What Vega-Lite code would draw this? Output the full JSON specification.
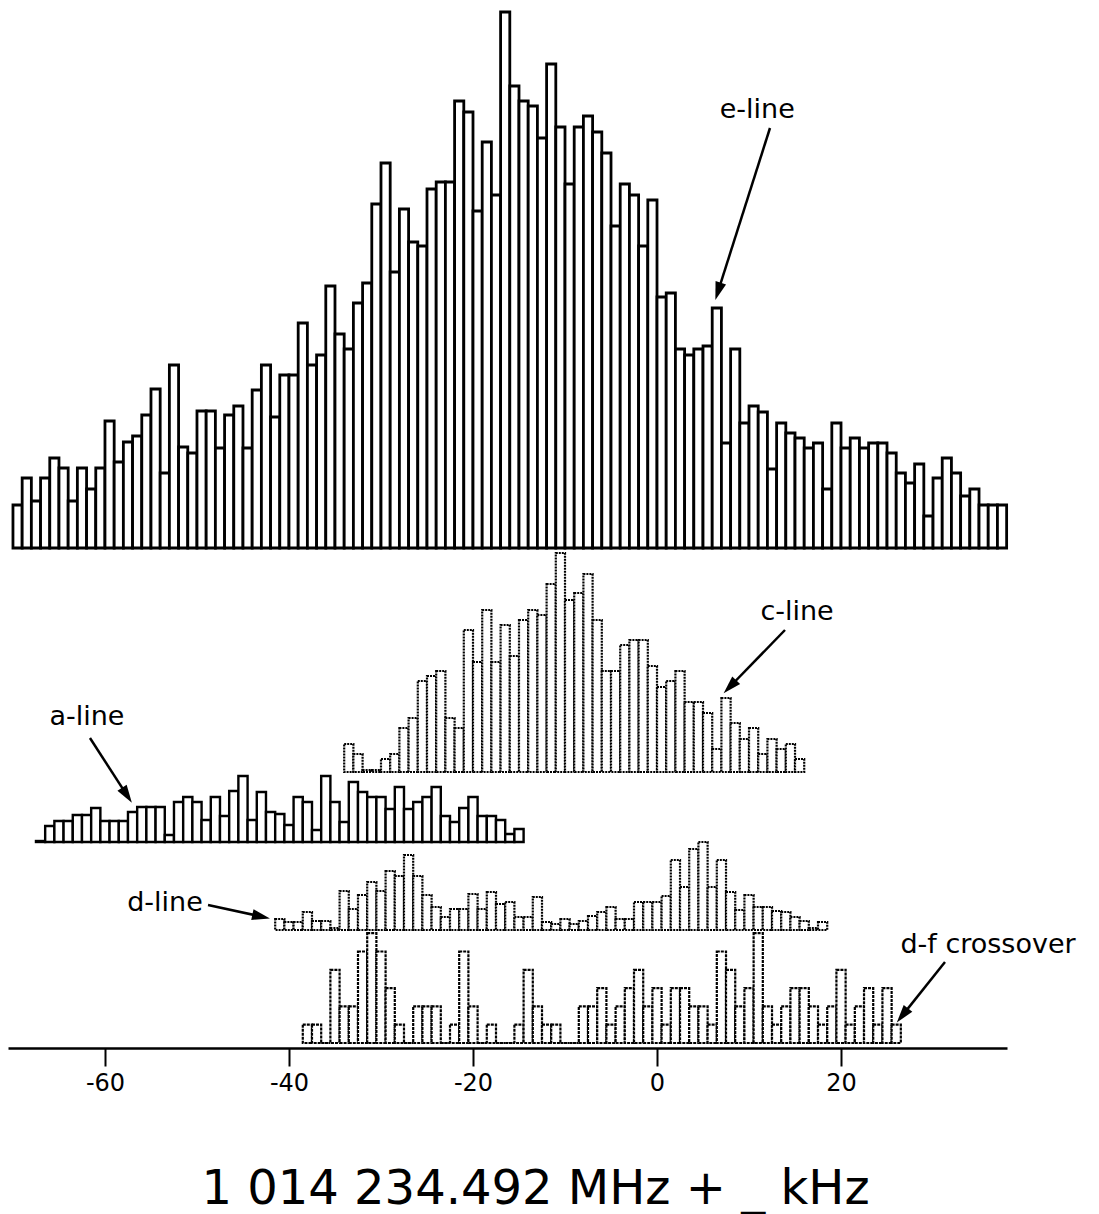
{
  "$schema": "https://vega.github.io/schema/vega-lite/v6.json",
  "width": 999,
  "height": 1048,
  "autosize": "none",
  "padding": {"left": 8, "top": 0, "right": 92, "bottom": 166},
  "background": "white",
  "config": {
    "view": {"stroke": null},
    "font": "DejaVu Sans",
    "axisX": {"tickSize": 18, "tickWidth": 2, "tickColor": "black", "domainColor": "black", "domainWidth": 2.5, "grid": false,
      "labelFont": "DejaVu Sans", "labelFontSize": 24, "labelColor": "black", "labelPadding": 5, "labelFlush": false,
      "labelExpr": "datum.value < 0 ? '-' + abs(datum.value) : '' + datum.value",
      "titleFont": "DejaVu Sans", "titleFontSize": 48, "titleFontWeight": "normal", "titleColor": "black", "titlePadding": 70, "titleX": 527, "titleAlign": "center"}
  },
  "datasets": {
    "e": [
      {"lo":-70,"hi":-69,"n":43},{"lo":-69,"hi":-68,"n":70},{"lo":-68,"hi":-67,"n":47},{"lo":-67,"hi":-66,"n":70},{"lo":-66,"hi":-65,"n":90},{"lo":-65,"hi":-64,"n":80},{"lo":-64,"hi":-63,"n":47},{"lo":-63,"hi":-62,"n":80},{"lo":-62,"hi":-61,"n":59},{"lo":-61,"hi":-60,"n":80},
      {"lo":-60,"hi":-59,"n":127},{"lo":-59,"hi":-58,"n":86},{"lo":-58,"hi":-57,"n":106},{"lo":-57,"hi":-56,"n":112},{"lo":-56,"hi":-55,"n":133},{"lo":-55,"hi":-54,"n":159},{"lo":-54,"hi":-53,"n":75},{"lo":-53,"hi":-52,"n":183},{"lo":-52,"hi":-51,"n":101},{"lo":-51,"hi":-50,"n":95},
      {"lo":-50,"hi":-49,"n":137},{"lo":-49,"hi":-48,"n":137},{"lo":-48,"hi":-47,"n":100},{"lo":-47,"hi":-46,"n":133},{"lo":-46,"hi":-45,"n":142},{"lo":-45,"hi":-44,"n":100},{"lo":-44,"hi":-43,"n":158},{"lo":-43,"hi":-42,"n":183},{"lo":-42,"hi":-41,"n":131},{"lo":-41,"hi":-40,"n":173},
      {"lo":-40,"hi":-39,"n":173},{"lo":-39,"hi":-38,"n":225},{"lo":-38,"hi":-37,"n":183},{"lo":-37,"hi":-36,"n":193},{"lo":-36,"hi":-35,"n":262},{"lo":-35,"hi":-34,"n":214},{"lo":-34,"hi":-33,"n":199},{"lo":-33,"hi":-32,"n":245},{"lo":-32,"hi":-31,"n":265},{"lo":-31,"hi":-30,"n":344},
      {"lo":-30,"hi":-29,"n":385},{"lo":-29,"hi":-28,"n":276},{"lo":-28,"hi":-27,"n":339},{"lo":-27,"hi":-26,"n":306},{"lo":-26,"hi":-25,"n":302},{"lo":-25,"hi":-24,"n":359},{"lo":-24,"hi":-23,"n":366},{"lo":-23,"hi":-22,"n":366},{"lo":-22,"hi":-21,"n":447},{"lo":-21,"hi":-20,"n":436},
      {"lo":-20,"hi":-19,"n":337},{"lo":-19,"hi":-18,"n":406},{"lo":-18,"hi":-17,"n":353},{"lo":-17,"hi":-16,"n":536},{"lo":-16,"hi":-15,"n":462},{"lo":-15,"hi":-14,"n":447},{"lo":-14,"hi":-13,"n":442},{"lo":-13,"hi":-12,"n":410},{"lo":-12,"hi":-11,"n":484},{"lo":-11,"hi":-10,"n":421},
      {"lo":-10,"hi":-9,"n":364},{"lo":-9,"hi":-8,"n":421},{"lo":-8,"hi":-7,"n":432},{"lo":-7,"hi":-6,"n":416},{"lo":-6,"hi":-5,"n":395},{"lo":-5,"hi":-4,"n":322},{"lo":-4,"hi":-3,"n":364},{"lo":-3,"hi":-2,"n":353},{"lo":-2,"hi":-1,"n":302},{"lo":-1,"hi":0,"n":348},
      {"lo":0,"hi":1,"n":251},{"lo":1,"hi":2,"n":255},{"lo":2,"hi":3,"n":199},{"lo":3,"hi":4,"n":193},{"lo":4,"hi":5,"n":199},{"lo":5,"hi":6,"n":202},{"lo":6,"hi":7,"n":240},{"lo":7,"hi":8,"n":105},{"lo":8,"hi":9,"n":199},{"lo":9,"hi":10,"n":125},
      {"lo":10,"hi":11,"n":142},{"lo":11,"hi":12,"n":136},{"lo":12,"hi":13,"n":79},{"lo":13,"hi":14,"n":125},{"lo":14,"hi":15,"n":115},{"lo":15,"hi":16,"n":110},{"lo":16,"hi":17,"n":100},{"lo":17,"hi":18,"n":105},{"lo":18,"hi":19,"n":59},{"lo":19,"hi":20,"n":125},
      {"lo":20,"hi":21,"n":100},{"lo":21,"hi":22,"n":110},{"lo":22,"hi":23,"n":100},{"lo":23,"hi":24,"n":105},{"lo":24,"hi":25,"n":105},{"lo":25,"hi":26,"n":95},{"lo":26,"hi":27,"n":75},{"lo":27,"hi":28,"n":65},{"lo":28,"hi":29,"n":84},{"lo":29,"hi":30,"n":32},
      {"lo":30,"hi":31,"n":70},{"lo":31,"hi":32,"n":90},{"lo":32,"hi":33,"n":75},{"lo":33,"hi":34,"n":52},{"lo":34,"hi":35,"n":59},{"lo":35,"hi":36,"n":43},{"lo":36,"hi":37,"n":43},{"lo":37,"hi":38,"n":43}
    ],
    "c": [
      {"lo":-34,"hi":-33,"n":28},{"lo":-33,"hi":-32,"n":18},{"lo":-32,"hi":-31,"n":2},{"lo":-31,"hi":-30,"n":2},{"lo":-30,"hi":-29,"n":13},{"lo":-29,"hi":-28,"n":18},{"lo":-28,"hi":-27,"n":44},{"lo":-27,"hi":-26,"n":54},{"lo":-26,"hi":-25,"n":91},{"lo":-25,"hi":-24,"n":96},
      {"lo":-24,"hi":-23,"n":101},{"lo":-23,"hi":-22,"n":54},{"lo":-22,"hi":-21,"n":44},{"lo":-21,"hi":-20,"n":142},{"lo":-20,"hi":-19,"n":110},{"lo":-19,"hi":-18,"n":162},{"lo":-18,"hi":-17,"n":110},{"lo":-17,"hi":-16,"n":147},{"lo":-16,"hi":-15,"n":116},{"lo":-15,"hi":-14,"n":152},
      {"lo":-14,"hi":-13,"n":162},{"lo":-13,"hi":-12,"n":157},{"lo":-12,"hi":-11,"n":188},{"lo":-11,"hi":-10,"n":219},{"lo":-10,"hi":-9,"n":172},{"lo":-9,"hi":-8,"n":179},{"lo":-8,"hi":-7,"n":198},{"lo":-7,"hi":-6,"n":152},{"lo":-6,"hi":-5,"n":101},{"lo":-5,"hi":-4,"n":101},
      {"lo":-4,"hi":-3,"n":127},{"lo":-3,"hi":-2,"n":132},{"lo":-2,"hi":-1,"n":132},{"lo":-1,"hi":0,"n":106},{"lo":0,"hi":1,"n":85},{"lo":1,"hi":2,"n":91},{"lo":2,"hi":3,"n":101},{"lo":3,"hi":4,"n":70},{"lo":4,"hi":5,"n":70},{"lo":5,"hi":6,"n":59},
      {"lo":6,"hi":7,"n":23},{"lo":7,"hi":8,"n":74},{"lo":8,"hi":9,"n":49},{"lo":9,"hi":10,"n":33},{"lo":10,"hi":11,"n":44},{"lo":11,"hi":12,"n":18},{"lo":12,"hi":13,"n":33},{"lo":13,"hi":14,"n":23},{"lo":14,"hi":15,"n":28},{"lo":15,"hi":16,"n":13}
    ],
    "a": [
      {"lo":-67.5,"hi":-66.5,"n":1},{"lo":-66.5,"hi":-65.5,"n":16},{"lo":-65.5,"hi":-64.5,"n":21},{"lo":-64.5,"hi":-63.5,"n":21},{"lo":-63.5,"hi":-62.5,"n":27},{"lo":-62.5,"hi":-61.5,"n":27},{"lo":-61.5,"hi":-60.5,"n":34},{"lo":-60.5,"hi":-59.5,"n":21},{"lo":-59.5,"hi":-58.5,"n":21},{"lo":-58.5,"hi":-57.5,"n":21},
      {"lo":-57.5,"hi":-56.5,"n":30},{"lo":-56.5,"hi":-55.5,"n":35},{"lo":-55.5,"hi":-54.5,"n":35},{"lo":-54.5,"hi":-53.5,"n":35},{"lo":-53.5,"hi":-52.5,"n":7},{"lo":-52.5,"hi":-51.5,"n":40},{"lo":-51.5,"hi":-50.5,"n":45},{"lo":-50.5,"hi":-49.5,"n":40},{"lo":-49.5,"hi":-48.5,"n":22},{"lo":-48.5,"hi":-47.5,"n":45},
      {"lo":-47.5,"hi":-46.5,"n":26},{"lo":-46.5,"hi":-45.5,"n":51},{"lo":-45.5,"hi":-44.5,"n":66},{"lo":-44.5,"hi":-43.5,"n":22},{"lo":-43.5,"hi":-42.5,"n":50},{"lo":-42.5,"hi":-41.5,"n":30},{"lo":-41.5,"hi":-40.5,"n":28},{"lo":-40.5,"hi":-39.5,"n":17},{"lo":-39.5,"hi":-38.5,"n":45},{"lo":-38.5,"hi":-37.5,"n":40},
      {"lo":-37.5,"hi":-36.5,"n":12},{"lo":-36.5,"hi":-35.5,"n":66},{"lo":-35.5,"hi":-34.5,"n":40},{"lo":-34.5,"hi":-33.5,"n":20},{"lo":-33.5,"hi":-32.5,"n":60},{"lo":-32.5,"hi":-31.5,"n":50},{"lo":-31.5,"hi":-30.5,"n":45},{"lo":-30.5,"hi":-29.5,"n":45},{"lo":-29.5,"hi":-28.5,"n":33},{"lo":-28.5,"hi":-27.5,"n":55},
      {"lo":-27.5,"hi":-26.5,"n":33},{"lo":-26.5,"hi":-25.5,"n":40},{"lo":-25.5,"hi":-24.5,"n":45},{"lo":-24.5,"hi":-23.5,"n":55},{"lo":-23.5,"hi":-22.5,"n":26},{"lo":-22.5,"hi":-21.5,"n":20},{"lo":-21.5,"hi":-20.5,"n":34},{"lo":-20.5,"hi":-19.5,"n":45},{"lo":-19.5,"hi":-18.5,"n":26},{"lo":-18.5,"hi":-17.5,"n":26},
      {"lo":-17.5,"hi":-16.5,"n":22},{"lo":-16.5,"hi":-15.5,"n":8},{"lo":-15.5,"hi":-14.5,"n":13}
    ],
    "d": [
      {"lo":-41.5,"hi":-40.5,"n":11},{"lo":-40.5,"hi":-39.5,"n":8},{"lo":-39.5,"hi":-38.5,"n":8},{"lo":-38.5,"hi":-37.5,"n":18},{"lo":-37.5,"hi":-36.5,"n":9},{"lo":-36.5,"hi":-35.5,"n":9},{"lo":-35.5,"hi":-34.5,"n":2},{"lo":-34.5,"hi":-33.5,"n":39},{"lo":-33.5,"hi":-32.5,"n":21},{"lo":-32.5,"hi":-31.5,"n":35},
      {"lo":-31.5,"hi":-30.5,"n":48},{"lo":-30.5,"hi":-29.5,"n":39},{"lo":-29.5,"hi":-28.5,"n":59},{"lo":-28.5,"hi":-27.5,"n":54},{"lo":-27.5,"hi":-26.5,"n":75},{"lo":-26.5,"hi":-25.5,"n":54},{"lo":-25.5,"hi":-24.5,"n":35},{"lo":-24.5,"hi":-23.5,"n":23},{"lo":-23.5,"hi":-22.5,"n":13},{"lo":-22.5,"hi":-21.5,"n":21},
      {"lo":-21.5,"hi":-20.5,"n":21},{"lo":-20.5,"hi":-19.5,"n":36},{"lo":-19.5,"hi":-18.5,"n":21},{"lo":-18.5,"hi":-17.5,"n":38},{"lo":-17.5,"hi":-16.5,"n":26},{"lo":-16.5,"hi":-15.5,"n":28},{"lo":-15.5,"hi":-14.5,"n":13},{"lo":-14.5,"hi":-13.5,"n":13},{"lo":-13.5,"hi":-12.5,"n":33},{"lo":-12.5,"hi":-11.5,"n":8},
      {"lo":-11.5,"hi":-10.5,"n":6},{"lo":-10.5,"hi":-9.5,"n":11},{"lo":-9.5,"hi":-8.5,"n":6},{"lo":-8.5,"hi":-7.5,"n":9},{"lo":-7.5,"hi":-6.5,"n":14},{"lo":-6.5,"hi":-5.5,"n":18},{"lo":-5.5,"hi":-4.5,"n":23},{"lo":-4.5,"hi":-3.5,"n":11},{"lo":-3.5,"hi":-2.5,"n":11},{"lo":-2.5,"hi":-1.5,"n":28},
      {"lo":-1.5,"hi":-0.5,"n":28},{"lo":-0.5,"hi":0.5,"n":28},{"lo":0.5,"hi":1.5,"n":34},{"lo":1.5,"hi":2.5,"n":70},{"lo":2.5,"hi":3.5,"n":43},{"lo":3.5,"hi":4.5,"n":81},{"lo":4.5,"hi":5.5,"n":88},{"lo":5.5,"hi":6.5,"n":43},{"lo":6.5,"hi":7.5,"n":70},{"lo":7.5,"hi":8.5,"n":38},
      {"lo":8.5,"hi":9.5,"n":20},{"lo":9.5,"hi":10.5,"n":35},{"lo":10.5,"hi":11.5,"n":23},{"lo":11.5,"hi":12.5,"n":23},{"lo":12.5,"hi":13.5,"n":19},{"lo":13.5,"hi":14.5,"n":18},{"lo":14.5,"hi":15.5,"n":13},{"lo":15.5,"hi":16.5,"n":9},{"lo":16.5,"hi":17.5,"n":2},{"lo":17.5,"hi":18.5,"n":8}
    ],
    "f": [
      {"lo":-38.5,"hi":-37.5,"n":1},{"lo":-37.5,"hi":-36.5,"n":1},{"lo":-36.5,"hi":-35.5,"n":0},{"lo":-35.5,"hi":-34.5,"n":4},{"lo":-34.5,"hi":-33.5,"n":2},{"lo":-33.5,"hi":-32.5,"n":2},{"lo":-32.5,"hi":-31.5,"n":5},{"lo":-31.5,"hi":-30.5,"n":6},{"lo":-30.5,"hi":-29.5,"n":5},{"lo":-29.5,"hi":-28.5,"n":3},
      {"lo":-28.5,"hi":-27.5,"n":1},{"lo":-27.5,"hi":-26.5,"n":0},{"lo":-26.5,"hi":-25.5,"n":2},{"lo":-25.5,"hi":-24.5,"n":2},{"lo":-24.5,"hi":-23.5,"n":2},{"lo":-23.5,"hi":-22.5,"n":0},{"lo":-22.5,"hi":-21.5,"n":1},{"lo":-21.5,"hi":-20.5,"n":5},{"lo":-20.5,"hi":-19.5,"n":2},{"lo":-19.5,"hi":-18.5,"n":0},
      {"lo":-18.5,"hi":-17.5,"n":1},{"lo":-17.5,"hi":-16.5,"n":0},{"lo":-16.5,"hi":-15.5,"n":0},{"lo":-15.5,"hi":-14.5,"n":1},{"lo":-14.5,"hi":-13.5,"n":4},{"lo":-13.5,"hi":-12.5,"n":2},{"lo":-12.5,"hi":-11.5,"n":1},{"lo":-11.5,"hi":-10.5,"n":1},{"lo":-10.5,"hi":-9.5,"n":0},{"lo":-9.5,"hi":-8.5,"n":0},
      {"lo":-8.5,"hi":-7.5,"n":2},{"lo":-7.5,"hi":-6.5,"n":2},{"lo":-6.5,"hi":-5.5,"n":3},{"lo":-5.5,"hi":-4.5,"n":1},{"lo":-4.5,"hi":-3.5,"n":2},{"lo":-3.5,"hi":-2.5,"n":3},{"lo":-2.5,"hi":-1.5,"n":4},{"lo":-1.5,"hi":-0.5,"n":2},{"lo":-0.5,"hi":0.5,"n":3},{"lo":0.5,"hi":1.5,"n":1},
      {"lo":1.5,"hi":2.5,"n":3},{"lo":2.5,"hi":3.5,"n":3},{"lo":3.5,"hi":4.5,"n":2},{"lo":4.5,"hi":5.5,"n":2},{"lo":5.5,"hi":6.5,"n":1},{"lo":6.5,"hi":7.5,"n":5},{"lo":7.5,"hi":8.5,"n":4},{"lo":8.5,"hi":9.5,"n":2},{"lo":9.5,"hi":10.5,"n":3},{"lo":10.5,"hi":11.5,"n":6},
      {"lo":11.5,"hi":12.5,"n":2},{"lo":12.5,"hi":13.5,"n":1},{"lo":13.5,"hi":14.5,"n":2},{"lo":14.5,"hi":15.5,"n":3},{"lo":15.5,"hi":16.5,"n":3},{"lo":16.5,"hi":17.5,"n":2},{"lo":17.5,"hi":18.5,"n":1},{"lo":18.5,"hi":19.5,"n":2},{"lo":19.5,"hi":20.5,"n":4},{"lo":20.5,"hi":21.5,"n":1},
      {"lo":21.5,"hi":22.5,"n":2},{"lo":22.5,"hi":23.5,"n":3},{"lo":23.5,"hi":24.5,"n":1},{"lo":24.5,"hi":25.5,"n":3},{"lo":25.5,"hi":26.5,"n":1}
    ]
  },
  "resolve": {"scale": {"y": "independent"}},
  "layer": [
    {
      "layer": [
        {
          "data": {"name": "e"},
          "mark": {"type": "rect", "fill": "white", "stroke": "black", "strokeWidth": 2.8},
          "encoding": {
            "x": {"field": "lo", "type": "quantitative", "scale": {"domain": [-70.54, 38.04], "nice": false, "zero": false}, "title": "1 014 234.492 MHz + _ kHz", "axis": {"values": [-60, -40, -20, 0, 20]}},
            "x2": {"field": "hi"},
            "y": {"field": "n", "type": "quantitative", "scale": {"domain": [-500, 548], "nice": false, "zero": false}, "axis": null},
            "y2": {"datum": 0}
          }
        },
        {
          "data": {"values": [{"x": 10.9, "y": 438, "t": "e-line"}]},
          "mark": {"type": "text", "fontSize": 27, "font": "DejaVu Sans", "color": "black", "align": "center", "baseline": "middle"},
          "encoding": {
            "x": {"field": "x", "type": "quantitative", "scale": {"domain": [-70.54, 38.04], "nice": false, "zero": false}, "title": "1 014 234.492 MHz + _ kHz", "axis": {"values": [-60, -40, -20, 0, 20]}},
            "y": {"field": "y", "type": "quantitative", "scale": {"domain": [-500, 548], "nice": false, "zero": false}, "axis": null},
            "text": {"field": "t"}
          }
        },
        {
          "data": {"values": [{"x": 12.28, "y": 420, "x2": 6.67, "y2": 257.6}]},
          "mark": {"type": "rule", "color": "black", "strokeWidth": 2.5},
          "encoding": {
            "x": {"field": "x", "type": "quantitative", "scale": {"domain": [-70.54, 38.04], "nice": false, "zero": false}, "title": "1 014 234.492 MHz + _ kHz", "axis": {"values": [-60, -40, -20, 0, 20]}},
            "y": {"field": "y", "type": "quantitative", "scale": {"domain": [-500, 548], "nice": false, "zero": false}, "axis": null},
            "x2": {"field": "x2"}, "y2": {"field": "y2"}
          }
        },
        {
          "data": {"values": [{"x": 6.67, "y": 257.6}]},
          "mark": {"type": "point", "shape": "M0,-1L0.55,0.8L-0.55,0.8Z", "filled": true, "color": "black", "opacity": 1, "size": 400, "angle": 197.6},
          "encoding": {
            "x": {"field": "x", "type": "quantitative", "scale": {"domain": [-70.54, 38.04], "nice": false, "zero": false}, "title": "1 014 234.492 MHz + _ kHz", "axis": {"values": [-60, -40, -20, 0, 20]}},
            "y": {"field": "y", "type": "quantitative", "scale": {"domain": [-500, 548], "nice": false, "zero": false}, "axis": null}
          }
        }
      ]
    },
    {
      "layer": [
        {
          "data": {"name": "c"},
          "mark": {"type": "rect", "fill": "white", "stroke": "black", "strokeWidth": 2.2, "strokeDash": [2, 1]},
          "encoding": {
            "x": {"field": "lo", "type": "quantitative", "scale": {"domain": [-70.54, 38.04], "nice": false, "zero": false}, "title": "1 014 234.492 MHz + _ kHz", "axis": {"values": [-60, -40, -20, 0, 20]}},
            "x2": {"field": "hi"},
            "y": {"field": "n", "type": "quantitative", "scale": {"domain": [-276, 772], "nice": false, "zero": false}, "axis": null},
            "y2": {"datum": 0}
          }
        },
        {
          "data": {"values": [{"x": 15.22, "y": 160, "t": "c-line"}]},
          "mark": {"type": "text", "fontSize": 27, "font": "DejaVu Sans", "color": "black", "align": "center", "baseline": "middle"},
          "encoding": {
            "x": {"field": "x", "type": "quantitative", "scale": {"domain": [-70.54, 38.04], "nice": false, "zero": false}, "title": "1 014 234.492 MHz + _ kHz", "axis": {"values": [-60, -40, -20, 0, 20]}},
            "y": {"field": "y", "type": "quantitative", "scale": {"domain": [-276, 772], "nice": false, "zero": false}, "axis": null},
            "text": {"field": "t"}
          }
        },
        {
          "data": {"values": [{"x": 13.91, "y": 142, "x2": 8.0, "y2": 86}]},
          "mark": {"type": "rule", "color": "black", "strokeWidth": 2.5},
          "encoding": {
            "x": {"field": "x", "type": "quantitative", "scale": {"domain": [-70.54, 38.04], "nice": false, "zero": false}, "title": "1 014 234.492 MHz + _ kHz", "axis": {"values": [-60, -40, -20, 0, 20]}},
            "y": {"field": "y", "type": "quantitative", "scale": {"domain": [-276, 772], "nice": false, "zero": false}, "axis": null},
            "x2": {"field": "x2"}, "y2": {"field": "y2"}
          }
        },
        {
          "data": {"values": [{"x": 8.0, "y": 86}]},
          "mark": {"type": "point", "shape": "M0,-1L0.55,0.8L-0.55,0.8Z", "filled": true, "color": "black", "opacity": 1, "size": 400, "angle": 224.2},
          "encoding": {
            "x": {"field": "x", "type": "quantitative", "scale": {"domain": [-70.54, 38.04], "nice": false, "zero": false}, "title": "1 014 234.492 MHz + _ kHz", "axis": {"values": [-60, -40, -20, 0, 20]}},
            "y": {"field": "y", "type": "quantitative", "scale": {"domain": [-276, 772], "nice": false, "zero": false}, "axis": null}
          }
        }
      ]
    },
    {
      "layer": [
        {
          "data": {"name": "a"},
          "mark": {"type": "rect", "fill": "white", "stroke": "black", "strokeWidth": 2.4},
          "encoding": {
            "x": {"field": "lo", "type": "quantitative", "scale": {"domain": [-70.54, 38.04], "nice": false, "zero": false}, "title": "1 014 234.492 MHz + _ kHz", "axis": {"values": [-60, -40, -20, 0, 20]}},
            "x2": {"field": "hi"},
            "y": {"field": "n", "type": "quantitative", "scale": {"domain": [-206, 842], "nice": false, "zero": false}, "axis": null},
            "y2": {"datum": 0}
          }
        },
        {
          "data": {"values": [{"x": -61.96, "y": 125, "t": "a-line"}]},
          "mark": {"type": "text", "fontSize": 27, "font": "DejaVu Sans", "color": "black", "align": "center", "baseline": "middle"},
          "encoding": {
            "x": {"field": "x", "type": "quantitative", "scale": {"domain": [-70.54, 38.04], "nice": false, "zero": false}, "title": "1 014 234.492 MHz + _ kHz", "axis": {"values": [-60, -40, -20, 0, 20]}},
            "y": {"field": "y", "type": "quantitative", "scale": {"domain": [-206, 842], "nice": false, "zero": false}, "axis": null},
            "text": {"field": "t"}
          }
        },
        {
          "data": {"values": [{"x": -61.63, "y": 104, "x2": -57.67, "y2": 47.6}]},
          "mark": {"type": "rule", "color": "black", "strokeWidth": 2.5},
          "encoding": {
            "x": {"field": "x", "type": "quantitative", "scale": {"domain": [-70.54, 38.04], "nice": false, "zero": false}, "title": "1 014 234.492 MHz + _ kHz", "axis": {"values": [-60, -40, -20, 0, 20]}},
            "y": {"field": "y", "type": "quantitative", "scale": {"domain": [-206, 842], "nice": false, "zero": false}, "axis": null},
            "x2": {"field": "x2"}, "y2": {"field": "y2"}
          }
        },
        {
          "data": {"values": [{"x": -57.67, "y": 47.6}]},
          "mark": {"type": "point", "shape": "M0,-1L0.55,0.8L-0.55,0.8Z", "filled": true, "color": "black", "opacity": 1, "size": 400, "angle": 146.9},
          "encoding": {
            "x": {"field": "x", "type": "quantitative", "scale": {"domain": [-70.54, 38.04], "nice": false, "zero": false}, "title": "1 014 234.492 MHz + _ kHz", "axis": {"values": [-60, -40, -20, 0, 20]}},
            "y": {"field": "y", "type": "quantitative", "scale": {"domain": [-206, 842], "nice": false, "zero": false}, "axis": null}
          }
        }
      ]
    },
    {
      "layer": [
        {
          "data": {"name": "d"},
          "mark": {"type": "rect", "fill": "white", "stroke": "black", "strokeWidth": 2.2, "strokeDash": [2, 1]},
          "encoding": {
            "x": {"field": "lo", "type": "quantitative", "scale": {"domain": [-70.54, 38.04], "nice": false, "zero": false}, "title": "1 014 234.492 MHz + _ kHz", "axis": {"values": [-60, -40, -20, 0, 20]}},
            "x2": {"field": "hi"},
            "y": {"field": "n", "type": "quantitative", "scale": {"domain": [-118, 930], "nice": false, "zero": false}, "axis": null},
            "y2": {"datum": 0}
          }
        },
        {
          "data": {"values": [{"x": -53.48, "y": 27, "t": "d-line"}]},
          "mark": {"type": "text", "fontSize": 27, "font": "DejaVu Sans", "color": "black", "align": "center", "baseline": "middle"},
          "encoding": {
            "x": {"field": "x", "type": "quantitative", "scale": {"domain": [-70.54, 38.04], "nice": false, "zero": false}, "title": "1 014 234.492 MHz + _ kHz", "axis": {"values": [-60, -40, -20, 0, 20]}},
            "y": {"field": "y", "type": "quantitative", "scale": {"domain": [-118, 930], "nice": false, "zero": false}, "axis": null},
            "text": {"field": "t"}
          }
        },
        {
          "data": {"values": [{"x": -48.8, "y": 25, "x2": -43.13, "y2": 13.7}]},
          "mark": {"type": "rule", "color": "black", "strokeWidth": 2.5},
          "encoding": {
            "x": {"field": "x", "type": "quantitative", "scale": {"domain": [-70.54, 38.04], "nice": false, "zero": false}, "title": "1 014 234.492 MHz + _ kHz", "axis": {"values": [-60, -40, -20, 0, 20]}},
            "y": {"field": "y", "type": "quantitative", "scale": {"domain": [-118, 930], "nice": false, "zero": false}, "axis": null},
            "x2": {"field": "x2"}, "y2": {"field": "y2"}
          }
        },
        {
          "data": {"values": [{"x": -43.13, "y": 13.7}]},
          "mark": {"type": "point", "shape": "M0,-1L0.55,0.8L-0.55,0.8Z", "filled": true, "color": "black", "opacity": 1, "size": 400, "angle": 102.2},
          "encoding": {
            "x": {"field": "x", "type": "quantitative", "scale": {"domain": [-70.54, 38.04], "nice": false, "zero": false}, "title": "1 014 234.492 MHz + _ kHz", "axis": {"values": [-60, -40, -20, 0, 20]}},
            "y": {"field": "y", "type": "quantitative", "scale": {"domain": [-118, 930], "nice": false, "zero": false}, "axis": null}
          }
        }
      ]
    },
    {
      "layer": [
        {
          "data": {"name": "f"},
          "mark": {"type": "rect", "fill": "white", "stroke": "black", "strokeWidth": 2.2, "strokeDash": [3, 1]},
          "encoding": {
            "x": {"field": "lo", "type": "quantitative", "scale": {"domain": [-70.54, 38.04], "nice": false, "zero": false}, "title": "1 014 234.492 MHz + _ kHz", "axis": {"values": [-60, -40, -20, 0, 20]}},
            "x2": {"field": "hi"},
            "y": {"field": "n", "type": "quantitative", "scale": {"domain": [-0.2732, 56.995], "nice": false, "zero": false}, "axis": null},
            "y2": {"datum": 0}
          }
        },
        {
          "data": {"values": [{"x": 35.98, "y": 5.36, "t": "d-f crossover"}]},
          "mark": {"type": "text", "fontSize": 27, "font": "DejaVu Sans", "color": "black", "align": "center", "baseline": "middle"},
          "encoding": {
            "x": {"field": "x", "type": "quantitative", "scale": {"domain": [-70.54, 38.04], "nice": false, "zero": false}, "title": "1 014 234.492 MHz + _ kHz", "axis": {"values": [-60, -40, -20, 0, 20]}},
            "y": {"field": "y", "type": "quantitative", "scale": {"domain": [-0.2732, 56.995], "nice": false, "zero": false}, "axis": null},
            "text": {"field": "t"}
          }
        },
        {
          "data": {"values": [{"x": 31.3, "y": 4.43, "x2": 26.74, "y2": 1.55}]},
          "mark": {"type": "rule", "color": "black", "strokeWidth": 2.5},
          "encoding": {
            "x": {"field": "x", "type": "quantitative", "scale": {"domain": [-70.54, 38.04], "nice": false, "zero": false}, "title": "1 014 234.492 MHz + _ kHz", "axis": {"values": [-60, -40, -20, 0, 20]}},
            "y": {"field": "y", "type": "quantitative", "scale": {"domain": [-0.2732, 56.995], "nice": false, "zero": false}, "axis": null},
            "x2": {"field": "x2"}, "y2": {"field": "y2"}
          }
        },
        {
          "data": {"values": [{"x": 26.74, "y": 1.55}]},
          "mark": {"type": "point", "shape": "M0,-1L0.55,0.8L-0.55,0.8Z", "filled": true, "color": "black", "opacity": 1, "size": 400, "angle": 218.5},
          "encoding": {
            "x": {"field": "x", "type": "quantitative", "scale": {"domain": [-70.54, 38.04], "nice": false, "zero": false}, "title": "1 014 234.492 MHz + _ kHz", "axis": {"values": [-60, -40, -20, 0, 20]}},
            "y": {"field": "y", "type": "quantitative", "scale": {"domain": [-0.2732, 56.995], "nice": false, "zero": false}, "axis": null}
          }
        }
      ]
    }
  ]
}
